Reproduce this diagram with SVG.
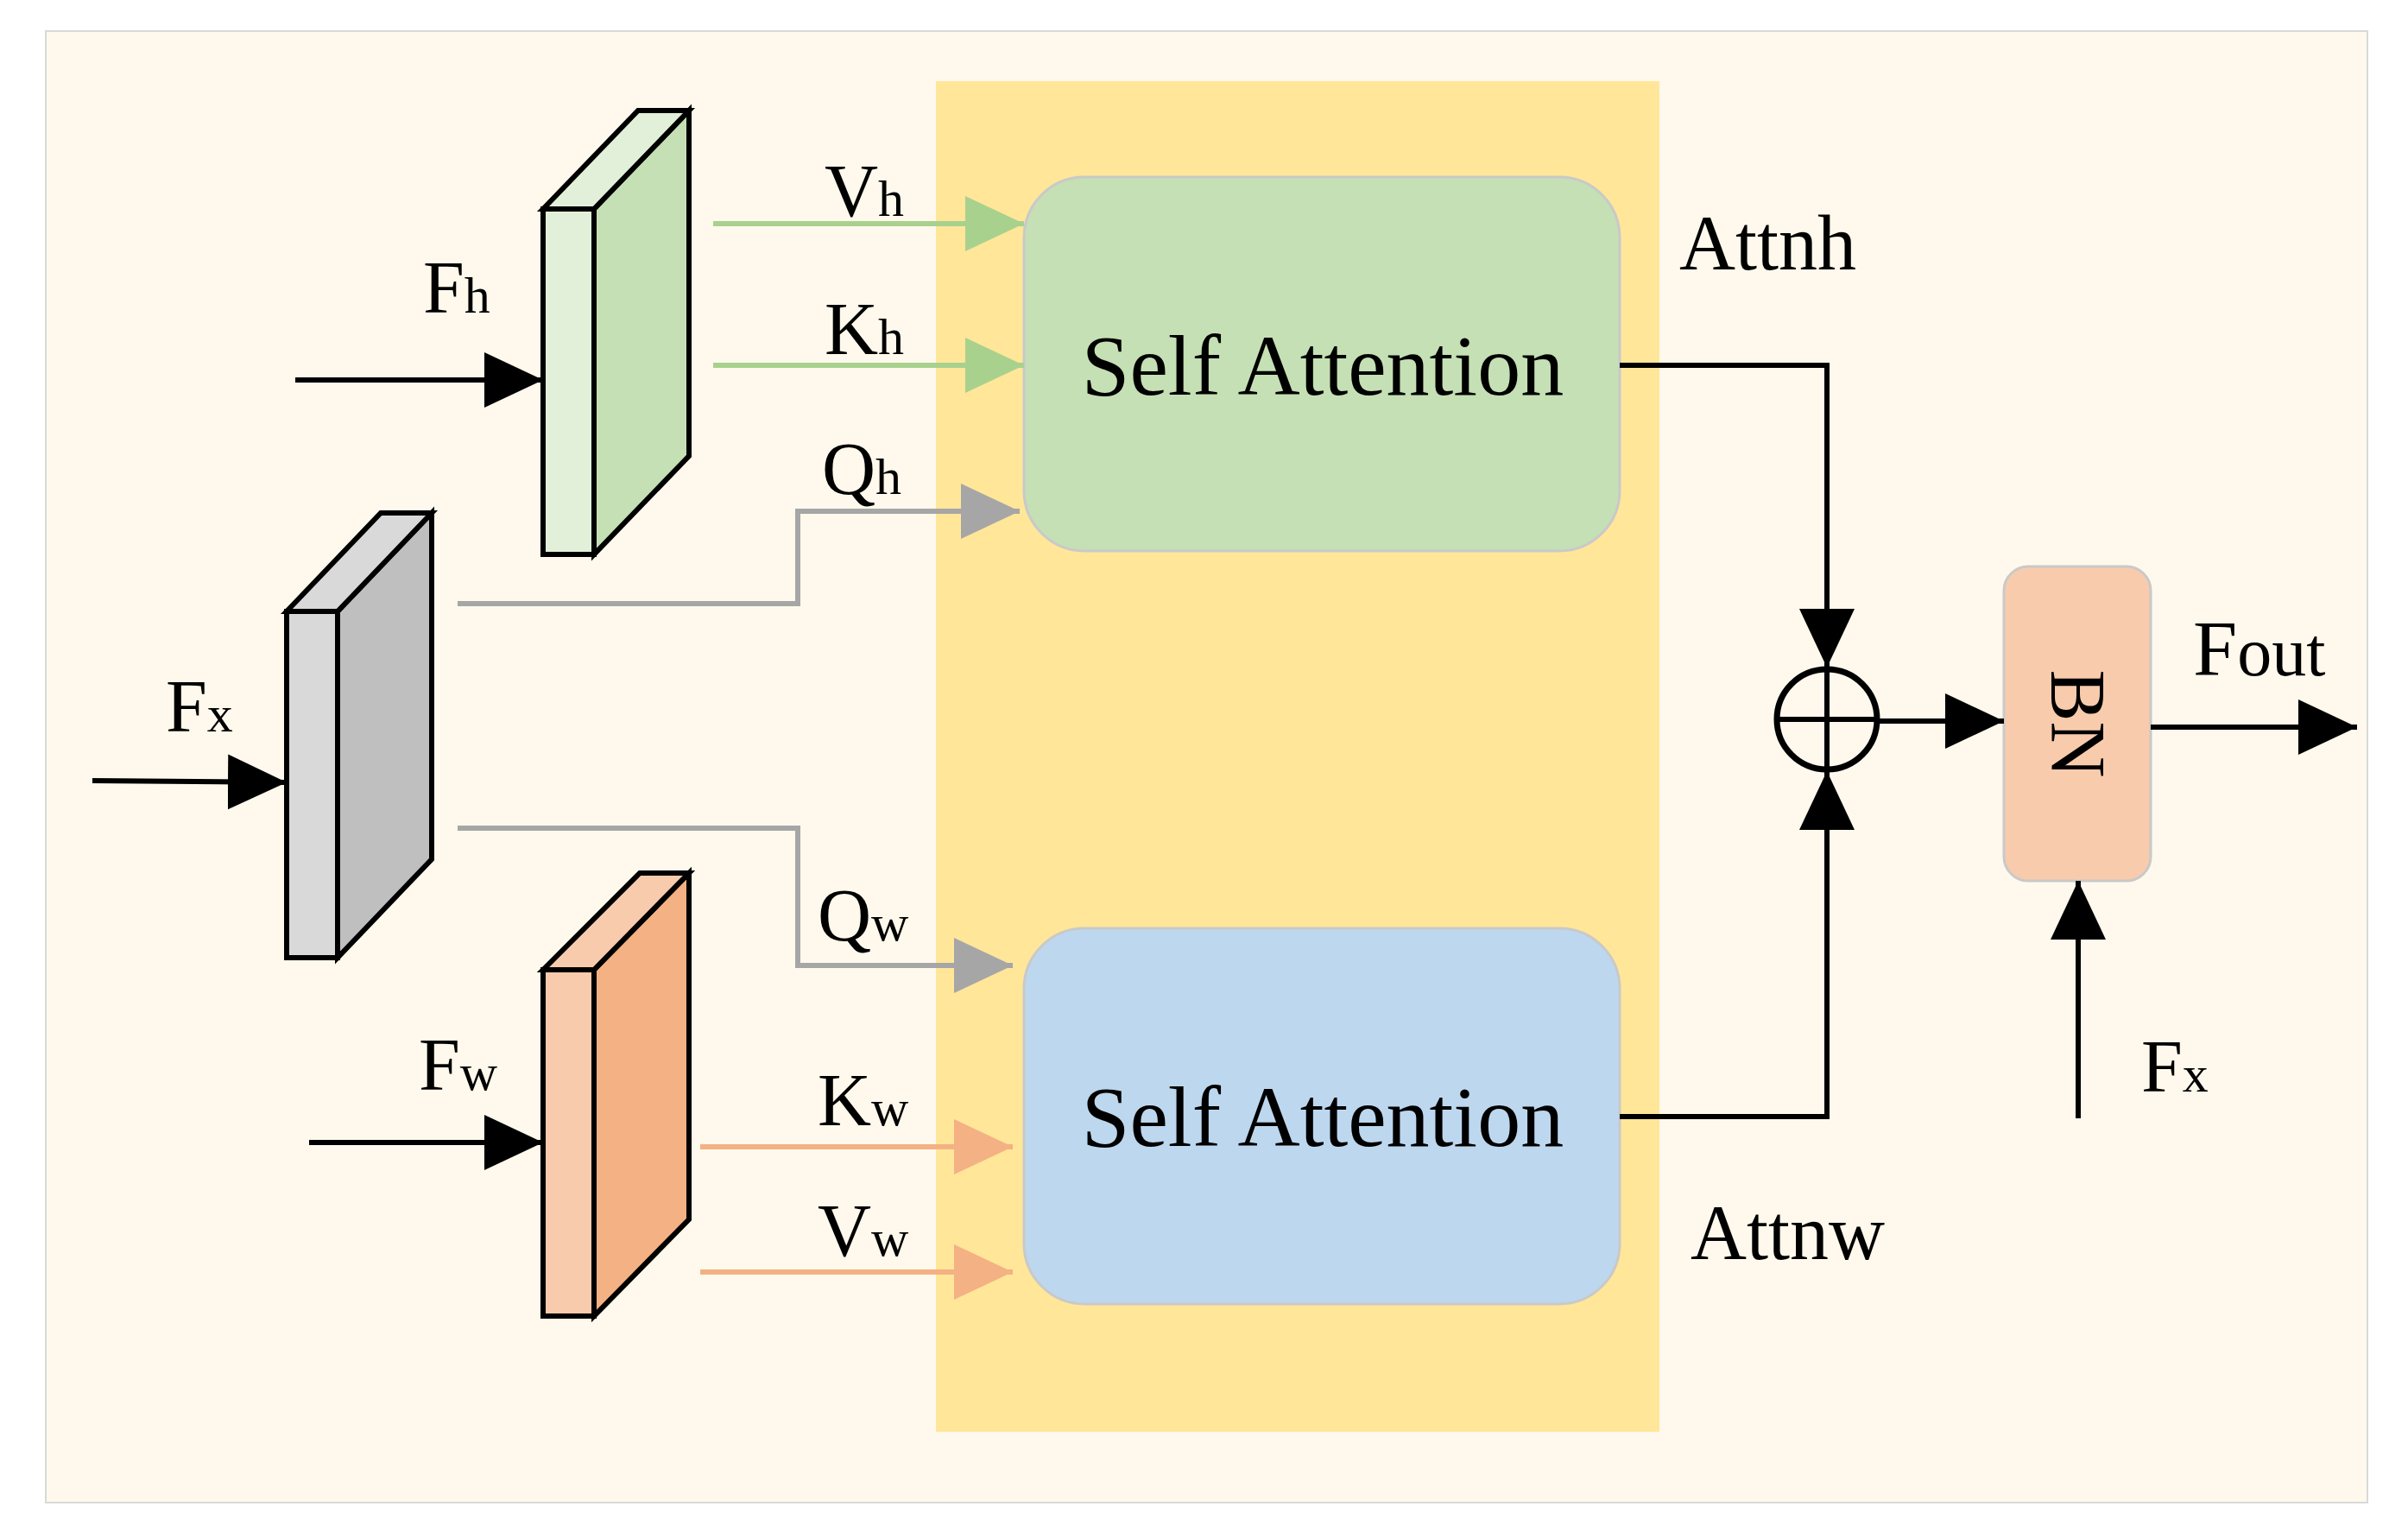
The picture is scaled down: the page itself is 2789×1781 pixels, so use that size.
<svg xmlns="http://www.w3.org/2000/svg" width="2789" height="1781" viewBox="0 0 2789 1781">
<defs>
<style>
text{font-family:"Liberation Serif","Times New Roman",serif;fill:#000}
.lb{font-size:86px}
.sb{font-size:60px}
.sa{font-size:100px;text-anchor:middle}
.blk{stroke:#000;stroke-width:6;stroke-linejoin:miter}
.edge{stroke:#000;stroke-width:6;stroke-linejoin:miter}
</style>
<marker id="ab" markerUnits="userSpaceOnUse" markerWidth="70" markerHeight="70" refX="68" refY="32" orient="auto"><path d="M0,0 L68,32 L0,64 Z" fill="#000"/></marker>
<marker id="ag" markerUnits="userSpaceOnUse" markerWidth="70" markerHeight="70" refX="68" refY="32" orient="auto"><path d="M0,0 L68,32 L0,64 Z" fill="#a9d18e"/></marker>
<marker id="ay" markerUnits="userSpaceOnUse" markerWidth="70" markerHeight="70" refX="68" refY="32" orient="auto"><path d="M0,0 L68,32 L0,64 Z" fill="#a6a6a6"/></marker>
<marker id="ao" markerUnits="userSpaceOnUse" markerWidth="70" markerHeight="70" refX="68" refY="32" orient="auto"><path d="M0,0 L68,32 L0,64 Z" fill="#f4b183"/></marker>
</defs>
<rect x="53" y="36" width="2689" height="1704" fill="#fef9ec" stroke="#d9d9d9" stroke-width="2"/>
<rect id="panel" x="1084" y="94" width="838" height="1564" fill="#ffe699"/>
<g id="sa_h"><rect x="1186" y="205" width="690" height="433" rx="70" fill="#c5e0b4" stroke="#c9c9c9" stroke-width="3"/><text class="sa" x="1532" y="457">Self Attention</text></g>
<g id="sa_w"><rect x="1186" y="1075" width="690" height="435" rx="70" fill="#bdd7ee" stroke="#c9c9c9" stroke-width="3"/><text class="sa" x="1532" y="1327">Self Attention</text></g>
<g id="fh_block">
<polygon class="blk" points="688,242 798,128 798,528 688,642" style="fill:#c5e0b4"/>
<polygon class="blk" points="629,242 739,128 798,128 688,242" style="fill:#e2f0d9"/>
<rect class="blk" x="629" y="242" width="59" height="400" style="fill:#e2f0d9"/>
</g>
<g id="fx_block">
<polygon class="blk" points="391,708 500,594 500,995 391,1109" style="fill:#bfbfbf"/>
<polygon class="blk" points="332,708 441,594 500,594 391,708" style="fill:#d9d9d9"/>
<rect class="blk" x="332" y="708" width="59" height="401" style="fill:#d9d9d9"/>
</g>
<g id="fw_block">
<polygon class="blk" points="688,1123 798,1011 798,1412 688,1524" style="fill:#f4b183"/>
<polygon class="blk" points="629,1123 741,1011 798,1011 688,1123" style="fill:#f8cbad"/>
<rect class="blk" x="629" y="1123" width="59" height="401" style="fill:#f8cbad"/>
</g>
<g id="bn"><rect x="2321" y="656" width="170" height="364" rx="28" fill="#f8cbad" stroke="#c9c9c9" stroke-width="3"/><text x="2406" y="838" font-size="90" text-anchor="middle" dominant-baseline="central" transform="rotate(90 2406 838)">BN</text></g>
<g id="plus"><circle cx="2116" cy="833" r="58" fill="none" stroke="#000" stroke-width="7"/><line x1="2058" y1="833" x2="2174" y2="833" stroke="#000" stroke-width="6"/><line x1="2116" y1="775" x2="2116" y2="891" stroke="#000" stroke-width="6"/></g>
<g id="connectors" fill="none">
<line class="edge" x1="342" y1="440" x2="629" y2="440" marker-end="url(#ab)"/>
<line class="edge" x1="107" y1="904" x2="332" y2="906" marker-end="url(#ab)"/>
<line class="edge" x1="358" y1="1323" x2="629" y2="1323" marker-end="url(#ab)"/>
<line x1="826" y1="259" x2="1186" y2="259" stroke="#a9d18e" stroke-width="6" marker-end="url(#ag)"/>
<line x1="826" y1="423" x2="1186" y2="423" stroke="#a9d18e" stroke-width="6" marker-end="url(#ag)"/>
<polyline points="530,699 924,699 924,592 1181,592" stroke="#a6a6a6" stroke-width="6" marker-end="url(#ay)"/>
<polyline points="530,959 924,959 924,1118 1173,1118" stroke="#a6a6a6" stroke-width="6" marker-end="url(#ay)"/>
<line x1="811" y1="1328" x2="1173" y2="1328" stroke="#f4b183" stroke-width="6" marker-end="url(#ao)"/>
<line x1="811" y1="1473" x2="1173" y2="1473" stroke="#f4b183" stroke-width="6" marker-end="url(#ao)"/>
<polyline class="edge" points="1876,423 2116,423 2116,773" marker-end="url(#ab)"/>
<polyline class="edge" points="1876,1293 2116,1293 2116,893" marker-end="url(#ab)"/>
<line class="edge" x1="2174" y1="835" x2="2321" y2="835" marker-end="url(#ab)"/>
<line class="edge" x1="2491" y1="842" x2="2730" y2="842" marker-end="url(#ab)"/>
<line class="edge" x1="2407" y1="1295" x2="2407" y2="1020" marker-end="url(#ab)"/>
</g>
<g id="labels">
<text class="lb" x="955" y="250">V<tspan class="sb">h</tspan></text>
<text class="lb" x="955" y="410">K<tspan class="sb">h</tspan></text>
<text class="lb" x="952" y="572">Q<tspan class="sb">h</tspan></text>
<text class="lb" x="947" y="1089">Q<tspan class="sb">w</tspan></text>
<text class="lb" x="947" y="1303">K<tspan class="sb">w</tspan></text>
<text class="lb" x="947" y="1454">V<tspan class="sb">w</tspan></text>
<text class="lb" x="490" y="362">F<tspan class="sb">h</tspan></text>
<text class="lb" x="192" y="847">F<tspan class="sb">x</tspan></text>
<text class="lb" x="485" y="1262">F<tspan class="sb">w</tspan></text>
<text x="1945" y="312" font-size="90">Attnh</text>
<text x="1958" y="1458" font-size="90">Attnw</text>
<text x="2540" y="782" font-size="92">F<tspan font-size="80">out</tspan></text>
<text class="lb" x="2480" y="1264">F<tspan class="sb">x</tspan></text>
</g>
</svg>
